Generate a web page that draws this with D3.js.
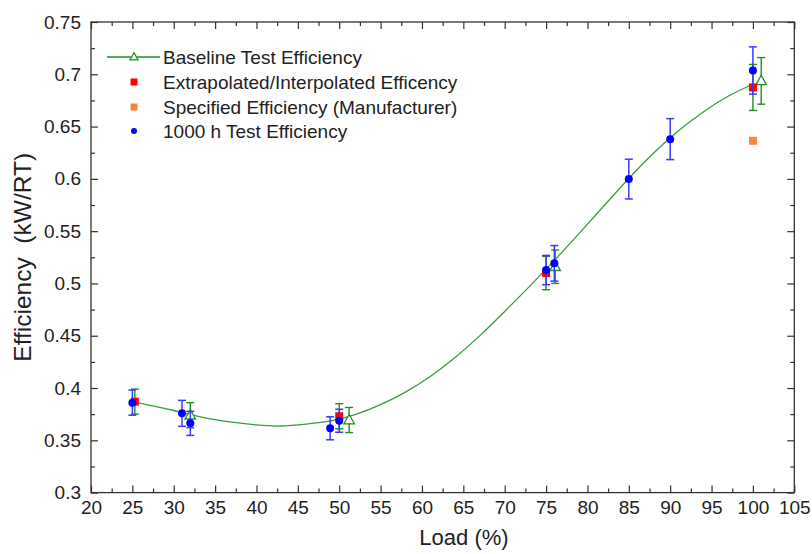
<!DOCTYPE html>
<html>
<head>
<meta charset="utf-8">
<script src="https://cdn.jsdelivr.net/npm/d3@7"></script>
<style>
  html, body { margin: 0; padding: 0; background: #fff; }
  svg { display: block; font-family: "Liberation Sans", Arial, sans-serif; }
</style>
</head>
<body>
<svg id="chart" width="812" height="554"></svg>
<script>
// Baseline test (open triangles with error bars)
const baseLoad = [32, 51.2, 76.1, 101];
const baseEff  = [0.374, 0.3694, 0.516, 0.6937];
const baseErr  = [0.012, 0.012, 0.016, 0.0223];

// Extrapolated / interpolated efficiency (red squares, green error bars)
const extrapLoad = [25.3, 50, 75, 100];
const extrapEff  = [0.387, 0.373, 0.510, 0.6874];
const extrapErr  = [0.012, 0.012, 0.016, 0.022];

// Manufacturer specified efficiency
const specLoad = [100];
const specEff  = [0.6364];

// 1000 h test efficiency (blue dots with error bars)
const testLoad = [25, 31, 32, 48.9, 50, 75, 76, 85, 90, 100];
const testEff  = [0.386, 0.3758, 0.3662, 0.3615, 0.3687, 0.5128, 0.5192, 0.5998, 0.638, 0.7036];
const testErr  = [0.012, 0.0124, 0.0115, 0.011, 0.011, 0.014, 0.017, 0.019, 0.0196, 0.0226];

// Fitted baseline curve
const fitLoad = [25, 30, 35, 40, 43, 46, 49, 52, 55, 58, 61, 64, 67, 70, 73, 76, 79, 82, 85, 88, 91, 94, 97, 100];
const fitEff  = [0.3870, 0.3785, 0.3697, 0.3647, 0.3637, 0.3655, 0.3685, 0.3748, 0.3841, 0.3961, 0.4111, 0.4291,
                 0.4501, 0.4732, 0.4972, 0.5221, 0.5479, 0.5743, 0.6004, 0.6247, 0.6460, 0.6640, 0.6790, 0.6905];

// Axis ticks
const xTicks = d3.range(20, 106, 5);
const xMinor = d3.range(22.5, 105, 5);
const yTicks = [0.3, 0.35, 0.4, 0.45, 0.5, 0.55, 0.6, 0.65, 0.7, 0.75];
const yMinor = [0.325, 0.375, 0.425, 0.475, 0.525, 0.575, 0.625, 0.675, 0.725];

const legendLabels = ["Baseline Test Efficiency", "Extrapolated/Interpolated Efficency",
                      "Specified Efficiency (Manufacturer)", "1000 h Test Efficiency"];

const GREEN = "#1f8f1f", LINE_GREEN = "#3a9c3a", BLUE = "#0000ff", BAR_BLUE = "#3a3aff",
      RED = "#ff0000", ORANGE = "#ff8040", FRAME = "#333";

const svg = d3.select("#chart");
const m = { left: 91, right: 794.3, top: 22, bottom: 492.6 };

const x = d3.scaleLinear().domain([20, 105]).range([m.left, m.right]);
const y = d3.scaleLinear().domain([0.3, 0.75]).range([m.bottom, m.top]);

const fmt = d => String(+d.toFixed(2));

// axes with inward ticks
function styleAxis(g) {
  g.select(".domain").remove();
  g.selectAll(".tick line").attr("stroke", FRAME).attr("stroke-width", 1.2);
  g.selectAll("text").attr("fill", "#222").style("font-size", "19px");
}
svg.append("g").attr("transform", `translate(0,${m.bottom})`)
  .call(d3.axisBottom(x).tickValues(xTicks).tickSize(-7).tickPadding(8).tickFormat(d3.format("d")))
  .call(styleAxis).selectAll("text").attr("dy", "0.71em");
svg.append("g").attr("transform", `translate(0,${m.bottom})`)
  .call(d3.axisBottom(x).tickValues(xMinor).tickSize(-4).tickFormat(""))
  .call(styleAxis);
svg.append("g").attr("transform", `translate(0,${m.top})`)
  .call(d3.axisTop(x).tickValues(xTicks).tickSize(-7).tickFormat(""))
  .call(styleAxis);
svg.append("g").attr("transform", `translate(0,${m.top})`)
  .call(d3.axisTop(x).tickValues(xMinor).tickSize(-4).tickFormat(""))
  .call(styleAxis);
svg.append("g").attr("transform", `translate(${m.left},0)`)
  .call(d3.axisLeft(y).tickValues(yTicks).tickSize(-7).tickPadding(10).tickFormat(fmt))
  .call(styleAxis);
svg.append("g").attr("transform", `translate(${m.left},0)`)
  .call(d3.axisLeft(y).tickValues(yMinor).tickSize(-4).tickFormat(""))
  .call(styleAxis);
svg.append("g").attr("transform", `translate(${m.right},0)`)
  .call(d3.axisRight(y).tickValues(yTicks).tickSize(-7).tickFormat(""))
  .call(styleAxis);
svg.append("g").attr("transform", `translate(${m.right},0)`)
  .call(d3.axisRight(y).tickValues(yMinor).tickSize(-4).tickFormat(""))
  .call(styleAxis);

// frame
svg.append("rect")
  .attr("x", m.left).attr("y", m.top)
  .attr("width", m.right - m.left).attr("height", m.bottom - m.top)
  .attr("fill", "none").attr("stroke", FRAME).attr("stroke-width", 1.3);

// axis titles
svg.append("text").attr("x", 464).attr("y", 545).attr("text-anchor", "middle")
  .style("font-size", "22px").attr("fill", "#222").text("Load (%)");
svg.append("text")
  .attr("transform", `translate(31,${(m.top + m.bottom) / 2}) rotate(-90)`)
  .attr("text-anchor", "middle").style("font-size", "24.5px").attr("fill", "#222")
  .attr("xml:space", "preserve").style("white-space", "pre")
  .text("Efficiency  (kW/RT)");

// fitted curve
const fitPts = fitLoad.map((l, i) => [l, fitEff[i]]);
svg.append("path").datum(fitPts)
  .attr("d", d3.line().x(d => x(d[0])).y(d => y(d[1])).curve(d3.curveNatural))
  .attr("fill", "none").attr("stroke", LINE_GREEN).attr("stroke-width", 1.3);

// error bar helper
function errorBars(loads, effs, errs, color, width) {
  const g = svg.append("g").attr("stroke", color).attr("stroke-width", width).attr("fill", "none");
  const cap = 4;
  loads.forEach((l, i) => {
    const cx = x(l), y1 = y(effs[i] + errs[i]), y2 = y(effs[i] - errs[i]);
    g.append("line").attr("x1", cx).attr("x2", cx).attr("y1", y1).attr("y2", y2);
    g.append("line").attr("x1", cx - cap).attr("x2", cx + cap).attr("y1", y1).attr("y2", y1);
    g.append("line").attr("x1", cx - cap).attr("x2", cx + cap).attr("y1", y2).attr("y2", y2);
  });
}

const triPath = (s) => `M0,${-s * 0.62}L${s * 0.58},${s * 0.42}L${-s * 0.58},${s * 0.42}Z`;

// baseline
errorBars(extrapLoad, extrapEff, extrapErr, GREEN, 1.4);
errorBars(baseLoad, baseEff, baseErr, GREEN, 1.4);
svg.append("g").selectAll("path").data(baseLoad).join("path")
  .attr("transform", (d, i) => `translate(${x(d)},${y(baseEff[i])})`)
  .attr("d", triPath(9)).attr("fill", "#fff").attr("stroke", GREEN).attr("stroke-width", 1.3);

// extrapolated / interpolated
svg.append("g").selectAll("rect").data(extrapLoad).join("rect")
  .attr("x", d => x(d) - 4).attr("y", (d, i) => y(extrapEff[i]) - 4)
  .attr("width", 8).attr("height", 8).attr("fill", RED);

// manufacturer
svg.append("g").selectAll("rect").data(specLoad).join("rect")
  .attr("x", d => x(d) - 4).attr("y", (d, i) => y(specEff[i]) - 4)
  .attr("width", 8).attr("height", 8).attr("fill", ORANGE);

// 1000 h test
errorBars(testLoad, testEff, testErr, BAR_BLUE, 1.5);
svg.append("g").selectAll("circle").data(testLoad).join("circle")
  .attr("cx", d => x(d)).attr("cy", (d, i) => y(testEff[i])).attr("r", 4).attr("fill", BLUE);

// legend
const lg = svg.append("g");
const rowY = [57, 82, 107, 131];
const symX = 134, textX = 163;
lg.append("line").attr("x1", 107).attr("x2", 160).attr("y1", rowY[0]).attr("y2", rowY[0])
  .attr("stroke", GREEN).attr("stroke-width", 1.3);
lg.append("path").attr("transform", `translate(${symX},${rowY[0]})`).attr("d", triPath(7))
  .attr("fill", "#fff").attr("stroke", GREEN).attr("stroke-width", 1.2);
lg.append("rect").attr("x", symX - 3.5).attr("y", rowY[1] - 3.5).attr("width", 7).attr("height", 7).attr("fill", RED);
lg.append("rect").attr("x", symX - 3.5).attr("y", rowY[2] - 3.5).attr("width", 7).attr("height", 7).attr("fill", ORANGE);
lg.append("circle").attr("cx", symX).attr("cy", rowY[3]).attr("r", 3).attr("fill", BLUE);
lg.selectAll("text").data(legendLabels).join("text")
  .attr("x", textX).attr("y", (d, i) => rowY[i]).attr("dy", "0.35em")
  .style("font-size", "19px").attr("fill", "#222").text(d => d);
</script>
</body>
</html>
